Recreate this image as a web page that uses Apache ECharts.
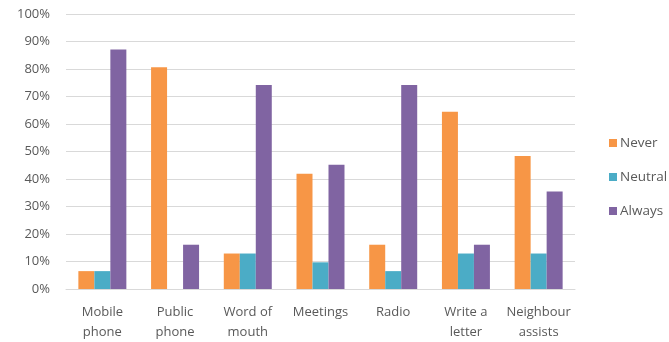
<!DOCTYPE html>
<html>
<head>
<meta charset="utf-8">
<script src="https://cdn.jsdelivr.net/npm/echarts@6/dist/echarts.min.js"></script>
<style>
  html, body { margin: 0; padding: 0; background: #fff; }
  #chart { width: 669px; height: 342px; }
</style>
</head>
<body>
<div id="chart"></div>
<script>
// Communication channels, share of respondents per answer (%)
const categories = ['Mobile\nphone', 'Public\nphone', 'Word of\nmouth', 'Meetings', 'Radio', 'Write a\nletter', 'Neighbour\nassists'];
const never   = [6.5, 80.6, 12.9, 41.9, 16.1, 64.5, 48.4];
const neutral = [6.5, 0,    12.9, 9.7,  6.5,  12.9, 12.9];
const always  = [87.1, 16.1, 74.2, 45.2, 74.2, 16.1, 35.5];
const yTicks = [0, 10, 20, 30, 40, 50, 60, 70, 80, 90, 100];

const font = '"Open Sans", "DejaVu Sans", sans-serif';
const textColor = '#595959';

const chart = echarts.init(document.getElementById('chart'), null, { renderer: 'canvas' });
chart.setOption({
  animation: false,
  textStyle: { fontFamily: font },
  grid: { left: 66, right: 94, top: 14, bottom: 51 },
  legend: {
    orient: 'vertical',
    left: 604,
    top: 131,
    itemWidth: 8,
    itemHeight: 8,
    itemGap: 20,
    icon: 'rect',
    textStyle: { color: textColor, fontSize: 13.5, fontFamily: font, padding: [0, 0, 0, -2] },
    data: ['Never', 'Neutral', 'Always']
  },
  xAxis: {
    type: 'category',
    data: categories,
    axisLine: { show: true, lineStyle: { color: '#d9d9d9', width: 1 } },
    axisTick: { show: false },
    axisLabel: { color: textColor, fontSize: 13, lineHeight: 20, margin: 13, interval: 0 }
  },
  yAxis: {
    type: 'value',
    min: yTicks[0],
    max: yTicks[yTicks.length - 1],
    interval: 10,
    axisLine: { show: false },
    axisTick: { show: false },
    splitLine: { lineStyle: { color: '#d9d9d9', width: 1 } },
    axisLabel: { color: textColor, fontSize: 13, margin: 16, formatter: '{value}%' }
  },
  series: [
    { name: 'Never',   type: 'bar', data: never,   itemStyle: { color: '#F79646' }, barGap: '0%', barCategoryGap: '34%' },
    { name: 'Neutral', type: 'bar', data: neutral, itemStyle: { color: '#4BACC6' }, barGap: '0%', barCategoryGap: '34%' },
    { name: 'Always',  type: 'bar', data: always,  itemStyle: { color: '#8064A2' }, barGap: '0%', barCategoryGap: '34%' }
  ]
});
</script>
</body>
</html>
